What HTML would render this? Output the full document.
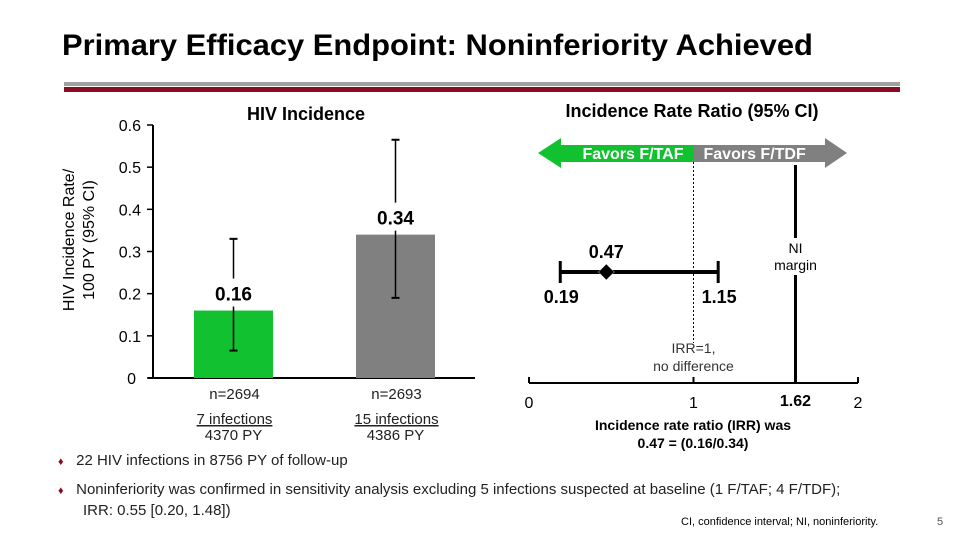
<!DOCTYPE html>
<html><head><meta charset="utf-8"><style>
body{margin:0;width:960px;height:540px;background:#fff;font-family:"Liberation Sans",Arial,sans-serif;overflow:hidden;position:relative}
.t{position:absolute;white-space:nowrap}
</style></head><body>
<div class="t" style="left:62px;top:29px;font-size:30px;font-weight:bold;color:#000;transform:scaleX(1.03);transform-origin:left">Primary Efficacy Endpoint: Noninferiority Achieved</div>
<div style="position:absolute;left:64px;top:82px;width:836px;height:4px;background:#a0a0a0"></div>
<div style="position:absolute;left:64px;top:87px;width:836px;height:5px;background:#8b0a24"></div>
<svg id="c" width="960" height="540" style="position:absolute;left:0;top:0"></svg>
<div class="t" style="left:58px;top:452px;font-size:15px;color:#222"><span style="color:#8b0a24;font-size:11px">♦</span>&nbsp;&nbsp;&nbsp;22 HIV infections in 8756 PY of follow-up</div>
<div class="t" style="left:58px;top:480px;font-size:15px;color:#222;line-height:19px"><span style="color:#8b0a24;font-size:11px">♦</span>&nbsp;&nbsp;&nbsp;Noninferiority was confirmed in sensitivity analysis excluding 5 infections suspected at baseline (1 F/TAF; 4 F/TDF);<br>&nbsp;&nbsp;&nbsp;&nbsp;&nbsp;&nbsp;IRR: 0.55 [0.20, 1.48])</div>
<div class="t" style="left:681px;top:516px;font-size:11px;color:#000">CI, confidence interval; NI, noninferiority.</div>
<div class="t" style="left:937px;top:516px;font-size:11px;color:#555">5</div>
<script>
const categories=["F/TAF","F/TDF"];
const rates=[0.16,0.34];
const ciLow=[0.065,0.19];
const ciHigh=[0.33,0.565];
const nLabels=["n=2694","n=2693"];
const infections=["7 infections","15 infections"];
const pyLabels=["4370 PY","4386 PY"];
const yTicks=[0,0.1,0.2,0.3,0.4,0.5,0.6];
const irrPoint=[0.47];
const irrLow=[0.19];
const irrHigh=[1.15];
const niMargin=[1.62];
const xTicks=[0,1,2];
const svg=document.getElementById('c');
const NS='http://www.w3.org/2000/svg';
function mk(tag,a,txt){const e=document.createElementNS(NS,tag);for(const k in a)e.setAttribute(k,a[k]);if(txt!=null)e.textContent=txt;svg.appendChild(e);return e;}
const y0=378,yTop=125,yMax=0.6;
const y=v=>y0-(v/yMax)*(y0-yTop);
const barX=[194,356],barW=79,cols=["#12c12f","#808080"];
let e=mk('line',{x1:153,y1:yTop,x2:153,y2:y0,stroke:'#000','stroke-width':2});

e=mk('line',{x1:148,y1:y0,x2:475,y2:y0,stroke:'#000','stroke-width':2});

yTicks.forEach(v=>{const t=mk('text',{x:v===0?136:141,y:y(v)+6,'text-anchor':'end','font-size':16,'font-family':'Liberation Sans'},v===0?'0':v.toFixed(1));

const l=mk('line',{x1:147,y1:y(v),x2:153,y2:y(v),stroke:'#000','stroke-width':1.5});
});
e=mk('text',{transform:'translate(80,240) rotate(-90)','text-anchor':'middle','font-size':16,'font-family':'Liberation Sans'});

e.innerHTML='<tspan x="0" dy="-6">HIV Incidence Rate/</tspan><tspan x="0" dy="20">100 PY (95% CI)</tspan>';
e=mk('text',{x:306,y:120,'text-anchor':'middle','font-size':18,'font-weight':'bold','font-family':'Liberation Sans'},'HIV Incidence');

rates.forEach((v,i)=>{const cx=barX[i]+barW/2;
const b=mk('rect',{x:barX[i],y:y(v),width:barW,height:y0-y(v),fill:cols[i]});

const lbl=mk('text',{x:cx,y:y(v)-10,'text-anchor':'middle','font-size':19,'font-weight':'bold','font-family':'Liberation Sans'},v.toFixed(2));

const lblTop=y(v)-32,lblBot=y(v)-4;
[[y(ciHigh[i]),lblTop],[lblBot,y(ciLow[i])]].forEach(s=>{const l=mk('line',{x1:cx,y1:s[0],x2:cx,y2:s[1],stroke:'#000','stroke-width':1.5});
});
[ciHigh[i],ciLow[i]].forEach(c=>{const l=mk('line',{x1:cx-4,y1:y(c),x2:cx+4,y2:y(c),stroke:'#000','stroke-width':2});
});
const n=mk('text',{x:cx+1,y:399,'text-anchor':'middle','font-size':15,'font-family':'Liberation Sans',fill:'#222'},nLabels[i]);

const inf=mk('text',{x:cx+1,y:424,'text-anchor':'middle','font-size':15,'font-family':'Liberation Sans',fill:'#222','text-decoration':'underline'},infections[i]);

const py=mk('text',{x:cx,y:440,'text-anchor':'middle','font-size':15,'font-family':'Liberation Sans',fill:'#222'},pyLabels[i]);
});
const fx0=529,fx1=858,fAx=383,fy=272;
const fx=v=>fx0+(v/2)*(fx1-fx0);
e=mk('text',{x:692,y:117,'text-anchor':'middle','font-size':18,'font-weight':'bold','font-family':'Liberation Sans'},'Incidence Rate Ratio (95% CI)');

const mid=fx(1);
e=mk('polygon',{points:`538,153 561,138 561,145 ${mid},145 ${mid},162 561,162 561,168`,fill:'#12c12f'});

e=mk('polygon',{points:`${mid},145 825,145 825,138 847,153 825,168 825,162 ${mid},162`,fill:'#808080'});

e=mk('text',{x:mid-10,y:159,'text-anchor':'end','font-size':16,'font-weight':'bold',fill:'#fff','font-family':'Liberation Sans'},'Favors F/TAF');

e=mk('text',{x:mid+10,y:159,'font-size':16,'font-weight':'bold',fill:'#fff','font-family':'Liberation Sans'},'Favors F/TDF');

e=mk('line',{x1:mid,y1:162,x2:mid,y2:343,stroke:'#000','stroke-width':1,'stroke-dasharray':'2,2'});

e=mk('line',{x1:fx0,y1:fAx,x2:fx1,y2:fAx,stroke:'#000','stroke-width':2});

xTicks.forEach(v=>{const l=mk('line',{x1:fx(v),y1:fAx-6,x2:fx(v),y2:fAx,stroke:'#000','stroke-width':2});

const t=mk('text',{x:fx(v),y:fAx+25,'text-anchor':'middle','font-size':16,'font-family':'Liberation Sans'},String(v));
});
const nm=fx(niMargin[0]);
[[165,238],[275,fAx]].forEach(s=>{const l=mk('line',{x1:nm,y1:s[0],x2:nm,y2:s[1],stroke:'#000','stroke-width':3});
});
e=mk('text',{x:nm,y:253,'text-anchor':'middle','font-size':14,'font-family':'Liberation Sans'},'NI');

e=mk('text',{x:nm,y:270,'text-anchor':'middle','font-size':14,'font-family':'Liberation Sans'},'margin');

e=mk('text',{x:nm,y:fAx+23,'text-anchor':'middle','font-size':16,'font-weight':'bold','font-family':'Liberation Sans'},niMargin[0].toFixed(2));

e=mk('line',{x1:fx(irrLow[0]),y1:fy,x2:fx(irrHigh[0]),y2:fy,stroke:'#000','stroke-width':4});

[irrLow[0],irrHigh[0]].forEach(v=>{const l=mk('line',{x1:fx(v),y1:fy-11,x2:fx(v),y2:fy+11,stroke:'#000','stroke-width':3});
});
const px=fx(irrPoint[0]);
e=mk('polygon',{points:`${px},${fy-8} ${px+8},${fy} ${px},${fy+8} ${px-8},${fy}`,fill:'#000',stroke:'#fff','stroke-width':0.5});

e=mk('text',{x:px,y:fy-14,'text-anchor':'middle','font-size':18,'font-weight':'bold','font-family':'Liberation Sans'},irrPoint[0].toFixed(2));

e=mk('text',{x:fx(irrLow[0])+1,y:fy+31,'text-anchor':'middle','font-size':18,'font-weight':'bold','font-family':'Liberation Sans'},irrLow[0].toFixed(2));

e=mk('text',{x:fx(irrHigh[0])+1,y:fy+31,'text-anchor':'middle','font-size':18,'font-weight':'bold','font-family':'Liberation Sans'},irrHigh[0].toFixed(2));

e=mk('text',{x:mid,y:353,'text-anchor':'middle','font-size':14,'font-family':'Liberation Sans',fill:'#333'},'IRR=1,');

e=mk('text',{x:mid,y:371,'text-anchor':'middle','font-size':14,'font-family':'Liberation Sans',fill:'#333'},'no difference');

e=mk('text',{x:693,y:430,'text-anchor':'middle','font-size':14,'font-weight':'bold','font-family':'Liberation Sans'},'Incidence rate ratio (IRR) was');

e=mk('text',{x:693,y:448,'text-anchor':'middle','font-size':14,'font-weight':'bold','font-family':'Liberation Sans'},'0.47 = (0.16/0.34)');

</script>
</body></html>
